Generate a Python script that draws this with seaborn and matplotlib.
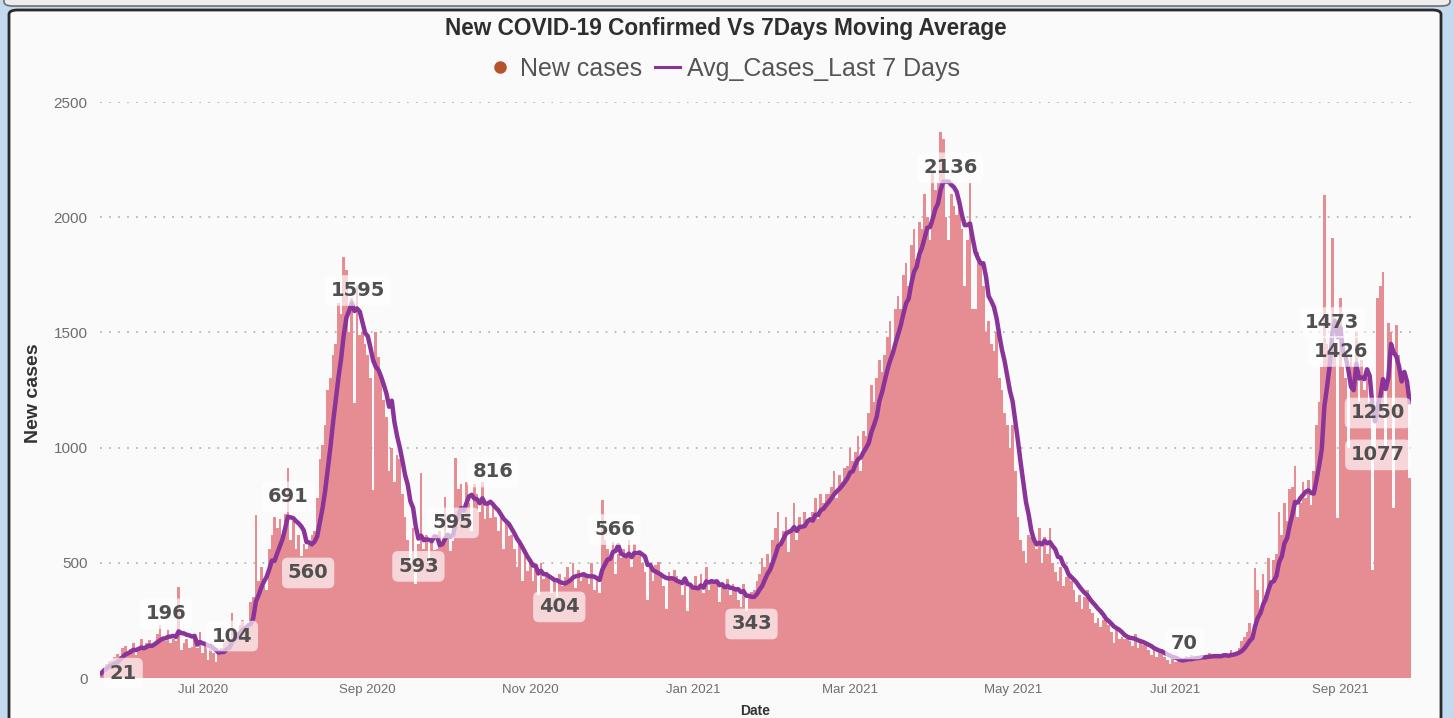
import numpy as np
import pandas as pd
import matplotlib
matplotlib.use("Agg")
import matplotlib.pyplot as plt
import matplotlib.dates as mdates
from matplotlib.lines import Line2D
from matplotlib.patches import FancyBboxPatch
import seaborn as sns

# ---------------- data ----------------
start_date = "2020-05-24"
new_cases = [
    21, 45, 60, 75, 80, 90, 105,
    95, 130, 140, 110, 125, 150, 100,
    130, 170, 120, 150, 165, 140, 150,
    190, 230, 170, 160, 210, 150, 170,
    160, 395, 120, 150, 170, 130, 135,
    180, 130, 200, 110, 150, 80, 130,
    110, 70, 120, 130, 150, 160, 170,
    282, 170, 200, 230, 250, 215, 240,
    330, 350, 707, 420, 480, 400, 380,
    560, 620, 700, 650, 690, 620, 710,
    911, 600, 680, 560, 620, 530, 580,
    560, 590, 620, 640, 780, 950, 1010,
    1100, 1250, 1300, 1400, 1450, 1627, 1582,
    1827, 1770, 1500, 1650, 1194, 1700, 1489,
    1500, 1450, 1400, 1300, 816, 1500, 1393,
    1293, 1207, 1133, 900, 1000, 850, 967,
    950, 800, 700, 600, 500, 650, 406,
    580, 890, 560, 620, 500, 600, 555,
    560, 640, 590, 786, 620, 550, 594,
    955, 820, 840, 700, 850, 760, 640,
    840, 800, 720, 850, 690, 760, 695,
    760, 700, 640, 720, 560, 680, 616,
    620, 560, 480, 600, 420, 530, 465,
    500, 420, 480, 360, 500, 430, 460,
    440, 370, 420, 350, 450, 400, 440,
    480, 430, 500, 390, 470, 420, 460,
    440, 410, 500, 380, 420, 367, 773,
    600, 560, 520, 590, 450, 540, 520,
    560, 520, 600, 480, 580, 530, 545,
    500, 460, 340, 480, 420, 490, 502,
    450, 400, 300, 460, 430, 470, 444,
    420, 360, 440, 290, 410, 380, 444,
    400, 450, 370, 480, 380, 420, 419,
    420, 330, 400, 380, 430, 360, 410,
    380, 340, 310, 410, 290, 360, 374,
    380, 420, 450, 520, 480, 540, 500,
    600, 650, 720, 580, 640, 700, 548,
    640, 760, 600, 700, 650, 720, 690,
    700, 720, 780, 690, 800, 760, 800,
    800, 830, 900, 780, 880, 850, 910,
    920, 1000, 940, 980, 1050, 900, 1070,
    1050, 1150, 1270, 1200, 1300, 1380, 1330,
    1400, 1480, 1550, 1420, 1600, 1660, 1600,
    1750, 1800, 1700, 1880, 1950, 1820, 1980,
    1950, 2100, 2000, 1900, 2200, 2120, 2150,
    2370, 2340, 2000, 1900, 2100, 2050, 2010,
    2050, 1950, 1700, 1900, 2150, 1600, 1600,
    1850, 1800, 1700, 1500, 1550, 1450, 1420,
    1500, 1300, 1250, 1150, 1100, 1000, 1100,
    900, 700, 600, 550, 500, 620, 610,
    620, 560, 650, 500, 610, 540, 650,
    500, 460, 420, 480, 400, 440, 450,
    420, 380, 330, 360, 300, 350, 380,
    300, 280, 240, 260, 220, 250, 256,
    230, 200, 150, 210, 170, 180, 169,
    180, 160, 140, 190, 130, 150, 142,
    140, 120, 100, 130, 90, 110, 122,
    90, 80, 60, 90, 70, 75, 81,
    80, 95, 70, 100, 85, 90, 89,
    100, 90, 85, 110, 95, 95, 90,
    95, 110, 100, 90, 120, 105, 115,
    130, 160, 180, 200, 240, 190, 477,
    380, 300, 450, 360, 520, 420, 510,
    540, 720, 620, 760, 680, 820, 830,
    920, 700, 760, 850, 780, 860, 751,
    900, 1100, 1200, 1350, 2096, 1450, 1400,
    1910, 1450, 694, 1650, 1350, 1300, 1000,
    1400, 1350, 1500, 1200, 1380, 1250, 1300,
    1200, 469, 1000, 1650, 1700, 1760, 1000,
    1540, 1500, 740, 1530, 1400, 1300, 1290,
    1250, 870,
]

label_dates = ["2020-05-24", "2020-06-17", "2020-07-09", "2020-08-02", "2020-08-10",
               "2020-08-28", "2020-09-20", "2020-10-01", "2020-10-15", "2020-11-13",
               "2020-12-03", "2021-01-23", "2021-04-08", "2021-07-03", "2021-08-29",
               "2021-09-21", "2021-09-27", "2021-09-14"]
label_values = [21, 196, 104, 691, 560, 1595, 593, 595, 816, 404,
                566, 343, 2136, 70, 1473, 1426, 1250, 1077]

y_ticks = [0, 500, 1000, 1500, 2000, 2500]
title = "New COVID-19 Confirmed Vs 7Days Moving Average"
legend_labels = ["New cases", "Avg_Cases_Last 7 Days"]

# ---------------- layout / style ----------------
W, H = 1454, 718
bar_color = "#E68C93"
line_color = "#8A3399"
legend_dot = "#B4532C"
label_offsets = [(22, 0), (1, 19), (8, 18), (0, 22), (-1, -24), (1, 20), (0, -25),
                 (5, 18), (8, 18), (-3, -22), (-1, 18), (0, -25), (-1, 18), (4, 18),
                 (0, 16), (-53, -2), (-32, -23), (3, -25)]

plt.rcParams["font.family"] = ["Liberation Sans", "DejaVu Sans"]

dates = pd.date_range(start_date, periods=len(new_cases), freq="D")
df = pd.DataFrame({"Date": mdates.date2num(dates), "New cases": new_cases})
df["Avg"] = df["New cases"].rolling(7, min_periods=1).mean()

fig = plt.figure(figsize=(W / 100, H / 100), dpi=100)
fig.patch.set_facecolor("#C3D9EE")

# card above (bottom edge visible) and main card
top_card = FancyBboxPatch((4 / W, 1 - 6 / H), 1 - 8 / W, 0.2,
                          boxstyle="round,pad=0,rounding_size=0.006",
                          transform=fig.transFigure, facecolor="#EDEDED",
                          edgecolor="#6E6E6E", linewidth=1.2, zorder=-20)
card = FancyBboxPatch((9 / W, -0.05), (1441 - 9) / W, (H - 10) / H + 0.05,
                      boxstyle="round,pad=0,rounding_size=0.006",
                      transform=fig.transFigure, facecolor="#FAFAFA",
                      edgecolor="#2A2A2A", linewidth=2.0, zorder=-10)
fig.patches.extend([top_card, card])

ax = fig.add_axes([100 / W, 1 - 678 / H, (1411 - 100) / W, (678 - 102) / H])
ax.set_facecolor("none")

sns.barplot(data=df, x="Date", y="New cases", native_scale=True, color=bar_color,
            saturation=1, width=1.0, linewidth=0, errorbar=None, ax=ax, zorder=2)
sns.lineplot(x=df["Date"], y=df["Avg"], color=line_color, linewidth=3.2, ax=ax,
             zorder=3)

ax.set_ylim(0, 2500)
ax.set_xlim(df["Date"].iloc[0] - 0.5, df["Date"].iloc[-1] + 0.5)
ax.set_yticks(y_ticks)
ax.set_yticklabels([str(t) for t in y_ticks])
ax.xaxis.set_major_locator(mdates.MonthLocator(bymonth=[1, 3, 5, 7, 9, 11]))
ax.xaxis.set_major_formatter(mdates.DateFormatter("%b %Y"))
ax.tick_params(axis="y", length=0, pad=9, labelsize=11, labelcolor="#6E6E6E")
ax.tick_params(axis="x", length=0, pad=4, labelsize=9.5, labelcolor="#6E6E6E")
ax.yaxis.grid(True, linestyle=(0, (1, 4)), color="#B8B8B8", linewidth=1.3)
ax.xaxis.grid(False)
ax.set_axisbelow(True)
for s in ax.spines.values():
    s.set_visible(False)
ax.set_xlabel("")
ax.set_ylabel("")

for d, v, (dx, dy) in zip(label_dates, label_values, label_offsets):
    ax.annotate(str(v), xy=(mdates.date2num(pd.Timestamp(d)), v), xytext=(dx, dy),
                textcoords="offset pixels", ha="center", va="center",
                fontsize=14, fontweight="bold", color="#505050",
                family="DejaVu Sans",
                bbox=dict(boxstyle="round,pad=0.3", fc="white", ec="none", alpha=0.65),
                zorder=6, annotation_clip=False)

fig.text(726 / W, 1 - 28 / H, title, ha="center", va="center", fontsize=16.3,
         fontweight="bold", color="#2E2E2E")
fig.text(33 / W, 1 - 393 / H, "New cases", rotation=90, ha="center", va="center",
         fontsize=14, fontweight="bold", color="#333333")
fig.text(755 / W, 1 - 711 / H, "Date", ha="center", va="center", fontsize=10,
         fontweight="bold", color="#333333")

handles = [Line2D([], [], marker="o", color=legend_dot, linestyle="none", markersize=8),
           Line2D([], [], color=line_color, linewidth=2.2)]
fig.legend(handles, legend_labels, loc="center", bbox_to_anchor=(724 / W, 1 - 69 / H),
           ncol=2, frameon=False, fontsize=18, labelcolor="#555555",
           handlelength=1.0, handletextpad=0.3, columnspacing=0.5)

fig.savefig("out.png", dpi=100, facecolor=fig.get_facecolor())
